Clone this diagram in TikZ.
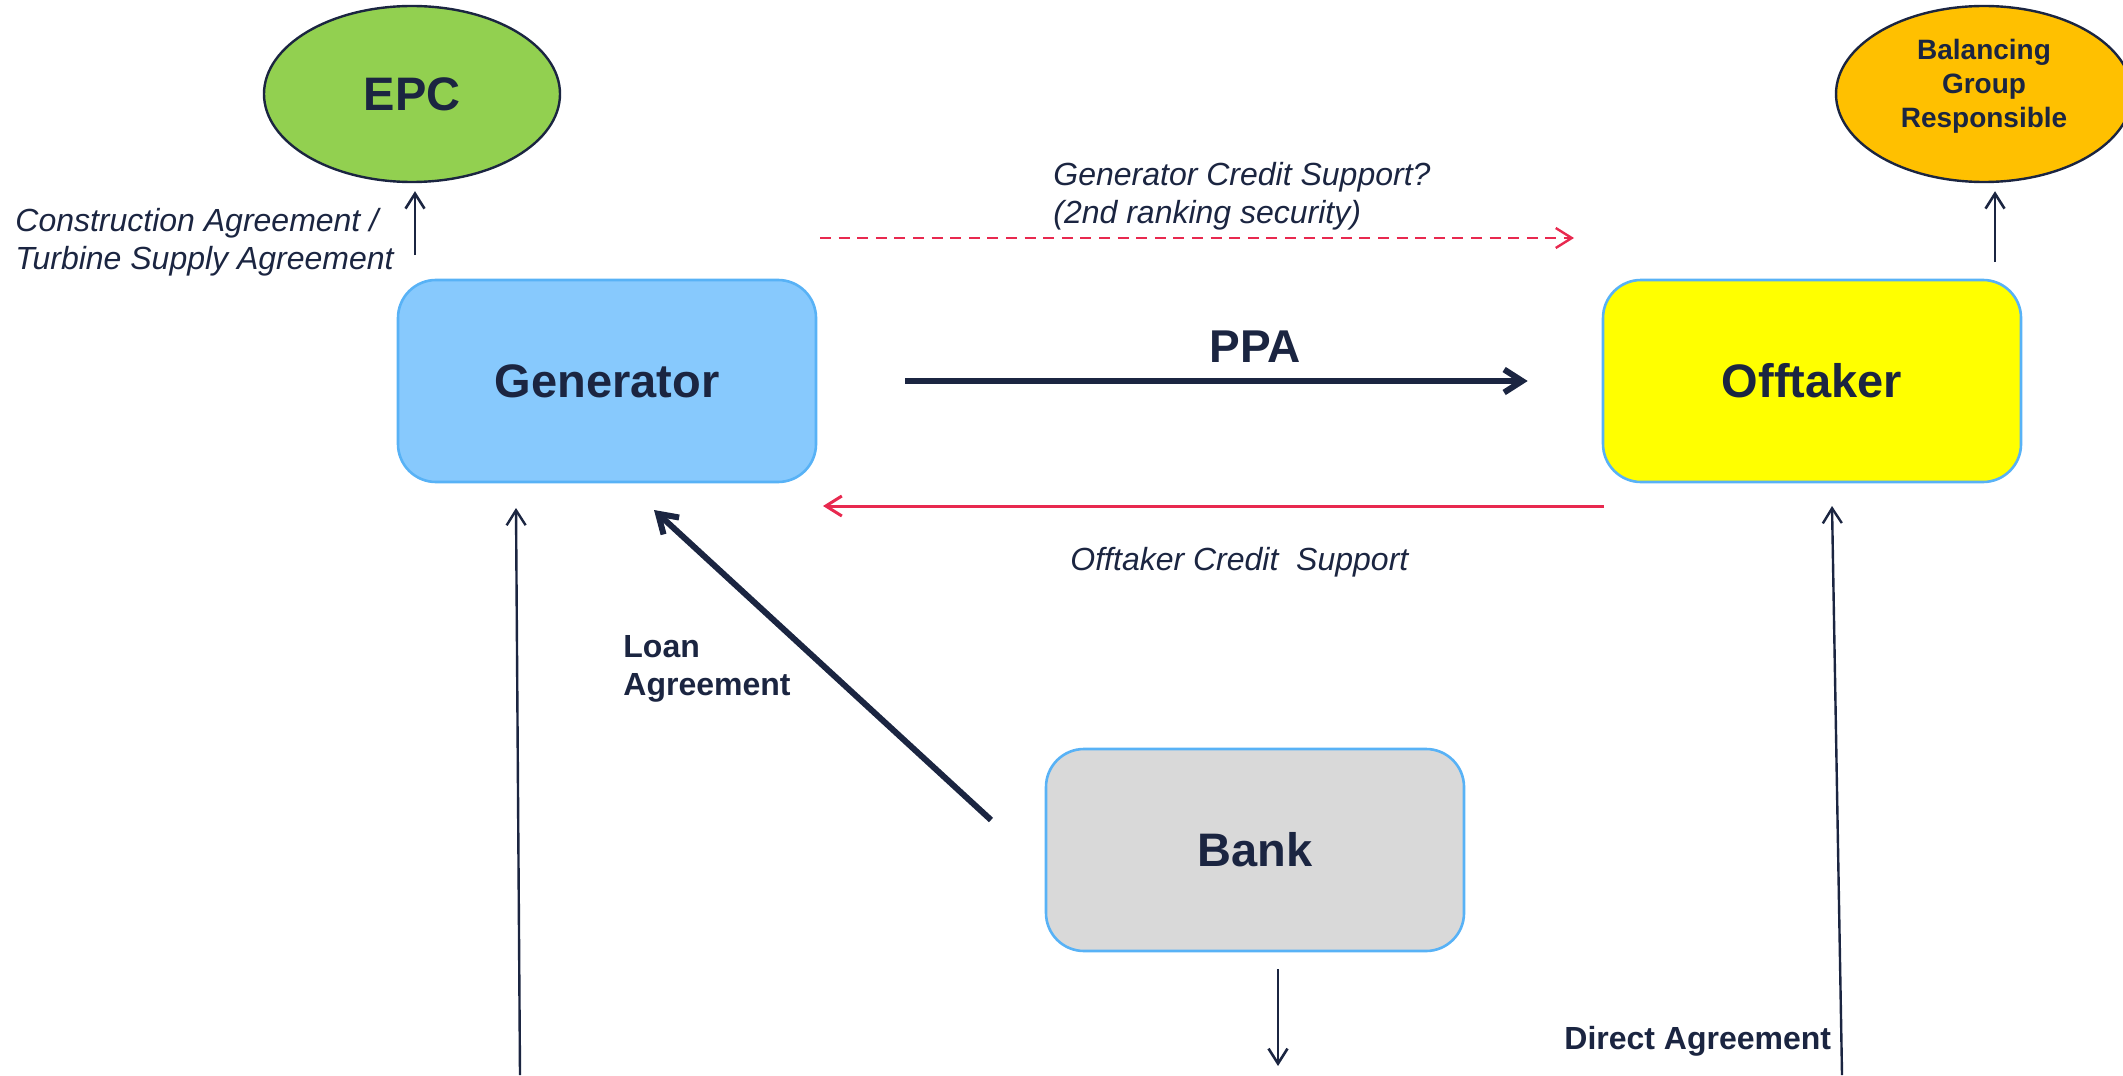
\documentclass[tikz,border=0pt]{standalone}
\usepackage{fontspec}
\setmainfont{Liberation Sans}
\usetikzlibrary{arrows.meta,shapes.geometric}
\definecolor{navy}{RGB}{27,37,65}
\definecolor{crim}{RGB}{232,41,79}
\definecolor{genblue}{RGB}{135,201,253}
\definecolor{boxline}{RGB}{88,178,246}
\definecolor{epcgreen}{RGB}{146,208,80}
\definecolor{bgrorange}{RGB}{255,192,0}
\definecolor{bankgrey}{RGB}{217,217,217}
\definecolor{offyellow}{RGB}{255,255,0}
\begin{document}
\begin{tikzpicture}[x=0.5pt,y=-0.5pt,
  party/.style={draw=boxline, line width=1.3pt, rounded corners=19pt, minimum width=209pt, minimum height=101pt, inner sep=0pt, text=navy, font=\fontsize{23.5}{28}\selectfont\bfseries},
  oval/.style={ellipse, draw=navy, line width=1.2pt, minimum width=148pt, minimum height=88pt, inner sep=0pt, text=navy},
  thinarrow/.style={draw=navy, line width=1.3pt, -{Straight Barb[length=7.5pt,width=9.5pt]}},
  longarrow/.style={draw=navy, line width=1.2pt, -{Straight Barb[length=7.5pt,width=9.5pt]}},
  thickarrow/.style={draw=navy, line width=3pt, -{Straight Barb[length=9pt,width=11.5pt]}},
  crimarrow/.style={draw=crim, line width=1.5pt, -{Straight Barb[length=8pt,width=10pt]}},
  crimdash/.style={draw=crim, line width=1.2pt, dash pattern=on 5.5pt off 3.8pt, -{Straight Barb[length=8pt,width=10pt]}},
  itlabel/.style={text=navy, inner sep=0pt, align=left, font=\fontsize{16}{19}\selectfont\itshape},
  bdlabel/.style={text=navy, inner sep=0pt, align=left, font=\fontsize{16}{19}\selectfont\bfseries}
]
\useasboundingbox (0,0) rectangle (2123,1075);

% nodes
\node[oval, fill=epcgreen, font=\fontsize{23.5}{28}\selectfont\bfseries] (epc) at (412,94) {EPC};
\node[oval, fill=bgrorange,
  label={[yshift=4pt, align=center, text=navy, font=\fontsize{14}{17}\selectfont\bfseries]center:Balancing\\Group\\Responsible}] (bgr) at (1984,94) {};
\node[party, fill=genblue] (gen) at (607,381) {Generator};
\node[party, fill=offyellow] (off) at (1812,381) {Offtaker};
\node[party, fill=bankgrey] (bank) at (1255,850) {Bank};

% labels
\node[itlabel, anchor=west] (conslbl) at (15,242) {Construction Agreement /\\Turbine Supply Agreement};
\node[itlabel, anchor=west] (gcslbl) at (1053,196) {Generator Credit Support?\\(2nd ranking security)};
\node[itlabel, anchor=west] (ocslbl) at (1070,562) {Offtaker Credit\ \ Support};
\node[text=navy, inner sep=0pt, font=\fontsize{23}{28}\selectfont\bfseries] (ppalbl) at (1255,347) {PPA};
\node[bdlabel, anchor=west] (loanlbl) at (623,669) {Loan\\Agreement};
\node[bdlabel, anchor=west] (directlbl) at (1564,1041) {Direct Agreement};

% coordinates
\coordinate (epcfrom) at (415,255);
\coordinate (bgrfrom) at (1995,262);
\coordinate (gcsfrom) at (820,238);
\coordinate (gcsto) at (1574,238);
\coordinate (ocsfrom) at (1604,506);
\coordinate (ocsto) at (823,506);
\coordinate (loanfrom) at (991,820);
\coordinate (loanto) at (654,510);
\coordinate (leftfrom) at (520,1075);
\coordinate (leftto) at (516,508);
\coordinate (bankdownfrom) at (1278,969);
\coordinate (bankdownto) at (1278,1066);
\coordinate (rightfrom) at (1842,1075);
\coordinate (rightto) at (1832,506);

% connectors
\draw[thinarrow, shorten >=4pt] (epcfrom) -- (epcfrom |- epc.south);
\draw[thinarrow, shorten >=4pt] (bgrfrom) -- (bgrfrom |- bgr.south);
\draw[crimdash] (gcsfrom) -- (gcsto);
\draw[thickarrow, shorten <=44pt, shorten >=37pt] (gen.east) -- (off.west);
\draw[crimarrow] (ocsfrom) -- (ocsto);
\draw[thickarrow] (loanfrom) -- (loanto);
\draw[longarrow] (leftfrom) -- (leftto);
\draw[thinarrow] (bankdownfrom) -- (bankdownto);
\draw[longarrow] (rightfrom) -- (rightto);
\end{tikzpicture}
\end{document}
